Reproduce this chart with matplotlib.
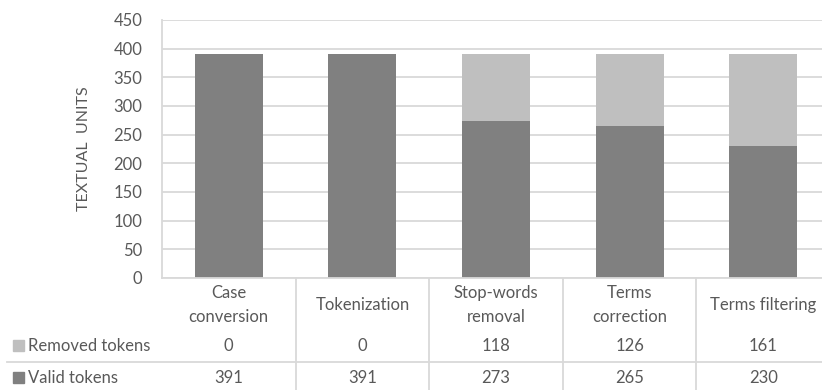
import numpy as np
import matplotlib.pyplot as plt
from matplotlib.lines import Line2D

categories = ['Case\nconversion', 'Tokenization', 'Stop-words\nremoval', 'Terms\ncorrection', 'Terms filtering']
valid = [391, 391, 273, 265, 230]
removed = [0, 0, 118, 126, 161]

dark = '#808080'
light = '#bfbfbf'
txt = '#595959'
grid = '#d9d9d9'

plt.rcParams['font.family'] = ['Lato', 'DejaVu Sans']
fs = 12

W, H = 822, 390
fig = plt.figure(figsize=(W / 100, H / 100), dpi=100)
# plot area runs a bit past the right edge of the picture, as in the original
ax = fig.add_axes([162 / W, 1 - 278 / H, 668 / W, 258 / H])

index = np.arange(len(categories))
ax.bar(index, valid, width=0.51, color=dark, zorder=3)
ax.bar(index, removed, width=0.51, bottom=valid, color=light, zorder=3)

ax.set_xlim(-0.5, len(categories) - 0.5)
ax.set_ylim(0, 450)
ax.set_yticks(range(0, 451, 50))
ax.yaxis.grid(True, color=grid, lw=1.3, zorder=0)
ax.tick_params(axis='y', length=0, labelsize=fs, labelcolor=txt, pad=14)
ax.set_xticks([])
for s in ['top', 'right', 'bottom']:
    ax.spines[s].set_visible(False)
ax.spines['left'].set_color(grid)
ax.spines['left'].set_linewidth(1.3)
ax.set_ylabel('TEXTUAL  UNITS', fontsize=11.5, color=txt, labelpad=16)

# data table under the plot
tr = ax.get_xaxis_transform()
def fy(py):
    return (278 - py) / 258

for i, c in enumerate(categories):
    ax.text(i, fy(305), c, transform=tr, ha='center', va='center', fontsize=fs,
            color=txt, linespacing=1.6, clip_on=False)
    ax.text(i, fy(346), str(removed[i]), transform=tr, ha='center', va='center',
            fontsize=fs, color=txt, clip_on=False)
    ax.text(i, fy(378), str(valid[i]), transform=tr, ha='center', va='center',
            fontsize=fs, color=txt, clip_on=False)

for py, label, col in [(346, 'Removed tokens', light), (378, 'Valid tokens', dark)]:
    fig.patches.append(plt.Rectangle((13 / W, 1 - (py + 5) / H), 11 / W, 11 / H,
                                     transform=fig.transFigure, color=col))
    fig.text(28 / W, 1 - py / H, label, ha='left', va='center', fontsize=fs, color=txt)

# table borders
fig.add_artist(Line2D([162 / W, 1], [1 - 278 / H] * 2, color=grid, lw=1.3))
fig.add_artist(Line2D([7 / W, 1], [1 - 362 / H] * 2, color=grid, lw=1.3))
for k in range(1, len(categories)):
    ax.plot([k - 0.5, k - 0.5], [0, fy(400)], transform=tr, color=grid, lw=1.3, clip_on=False)

fig.savefig('out.png', dpi=100)
